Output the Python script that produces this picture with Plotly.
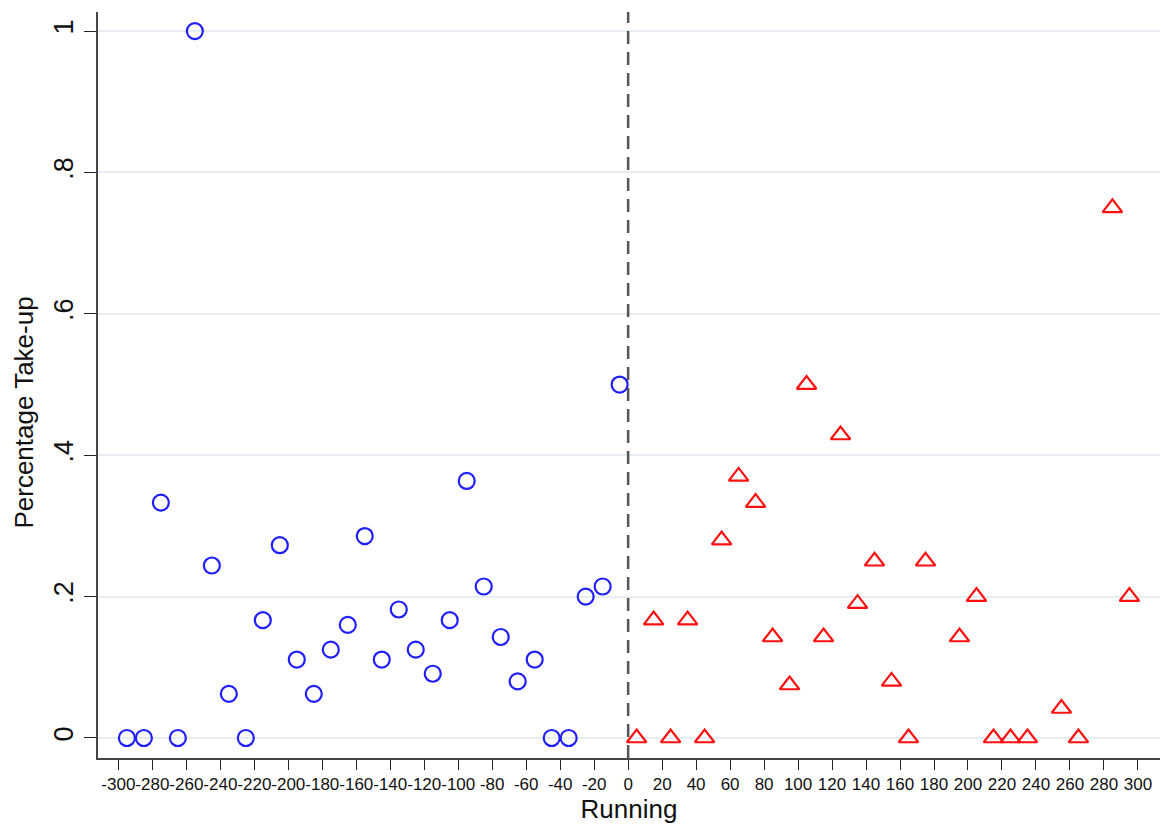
import plotly.graph_objects as go

# Bin midpoints of the running variable and take-up share in each bin
left_x = [-295, -285, -275, -265, -255, -245, -235, -225, -215, -205,
          -195, -185, -175, -165, -155, -145, -135, -125, -115, -105,
          -95, -85, -75, -65, -55, -45, -35, -25, -15, -5]
left_y = [0, 0, 0.333, 0, 1.0, 0.244, 0.0625, 0, 0.1667, 0.2727,
          0.111, 0.0625, 0.125, 0.16, 0.2857, 0.111, 0.1818, 0.125, 0.0909, 0.1667,
          0.3636, 0.2143, 0.1429, 0.08, 0.111, 0, 0, 0.2, 0.2143, 0.5]

right_x = [5, 15, 25, 35, 45, 55, 65, 75, 85, 95,
           105, 115, 125, 135, 145, 155, 165, 175, 195, 205,
           215, 225, 235, 255, 265, 285, 295]
right_y = [0, 0.1667, 0, 0.1667, 0, 0.28, 0.37, 0.333, 0.1429, 0.075,
           0.5, 0.1429, 0.4286, 0.19, 0.25, 0.08, 0, 0.25, 0.1429, 0.2,
           0, 0, 0, 0.0417, 0, 0.75, 0.2]

x_ticks = list(range(-300, 301, 20))
x_tick_text = [str(v) for v in x_ticks]  # plain hyphen-minus
y_ticks = [0, 0.2, 0.4, 0.6, 0.8, 1]
y_tick_text = ["0", ".2", ".4", ".6", ".8", "1"]

FONT = "Arial, Liberation Sans, sans-serif"

fig = go.Figure()
fig.add_trace(go.Scatter(
    x=left_x, y=left_y, mode="markers",
    marker=dict(symbol="circle-open", size=16, color="#1f1fff",
                line=dict(width=2.2, color="#1f1fff")),
    showlegend=False,
))
fig.add_trace(go.Scatter(
    x=right_x, y=right_y, mode="markers",
    marker=dict(symbol="triangle-up-open", size=17, color="#ff1010",
                line=dict(width=2.2, color="#ff1010")),
    showlegend=False,
))

# Cutoff at zero
fig.add_shape(type="line", xref="x", yref="paper", x0=0, x1=0, y0=0, y1=1,
              line=dict(color="#555555", width=2.5, dash="13px,8px"))

# Vertical axis title, placed a little below the middle of the axis
fig.add_annotation(text="Percentage Take-up", textangle=-90,
                   xref="paper", yref="paper", x=-0.0697, y=0.463,
                   xanchor="center", yanchor="middle", showarrow=False,
                   font=dict(size=26, family=FONT, color="#111111"))

fig.update_layout(
    width=1161, height=827,
    margin=dict(l=98, r=1, t=12, b=69),
    paper_bgcolor="white", plot_bgcolor="white",
    font=dict(family=FONT, color="#111111"),
    xaxis=dict(
        range=[-312, 313], tickvals=x_ticks, ticktext=x_tick_text,
        ticks="outside", ticklen=10, tickwidth=1.3, tickcolor="#222222",
        showgrid=False, zeroline=False,
        showline=True, linecolor="#444444", linewidth=1.5,
        tickfont=dict(size=17, family=FONT), tickangle=0,
        title=dict(text="Running", font=dict(size=26, family=FONT), standoff=4),
    ),
    yaxis=dict(
        range=[-0.0283, 1.027], tickvals=y_ticks, ticktext=y_tick_text,
        ticks="outside", ticklen=12, tickwidth=1.3, tickcolor="#222222",
        showgrid=True, gridcolor="#e6eef1", gridwidth=1.5, zeroline=False,
        showline=True, linecolor="#444444", linewidth=1.5,
        tickfont=dict(size=27, family=FONT), tickangle=-90,
    ),
)

fig.write_html("out.html")
